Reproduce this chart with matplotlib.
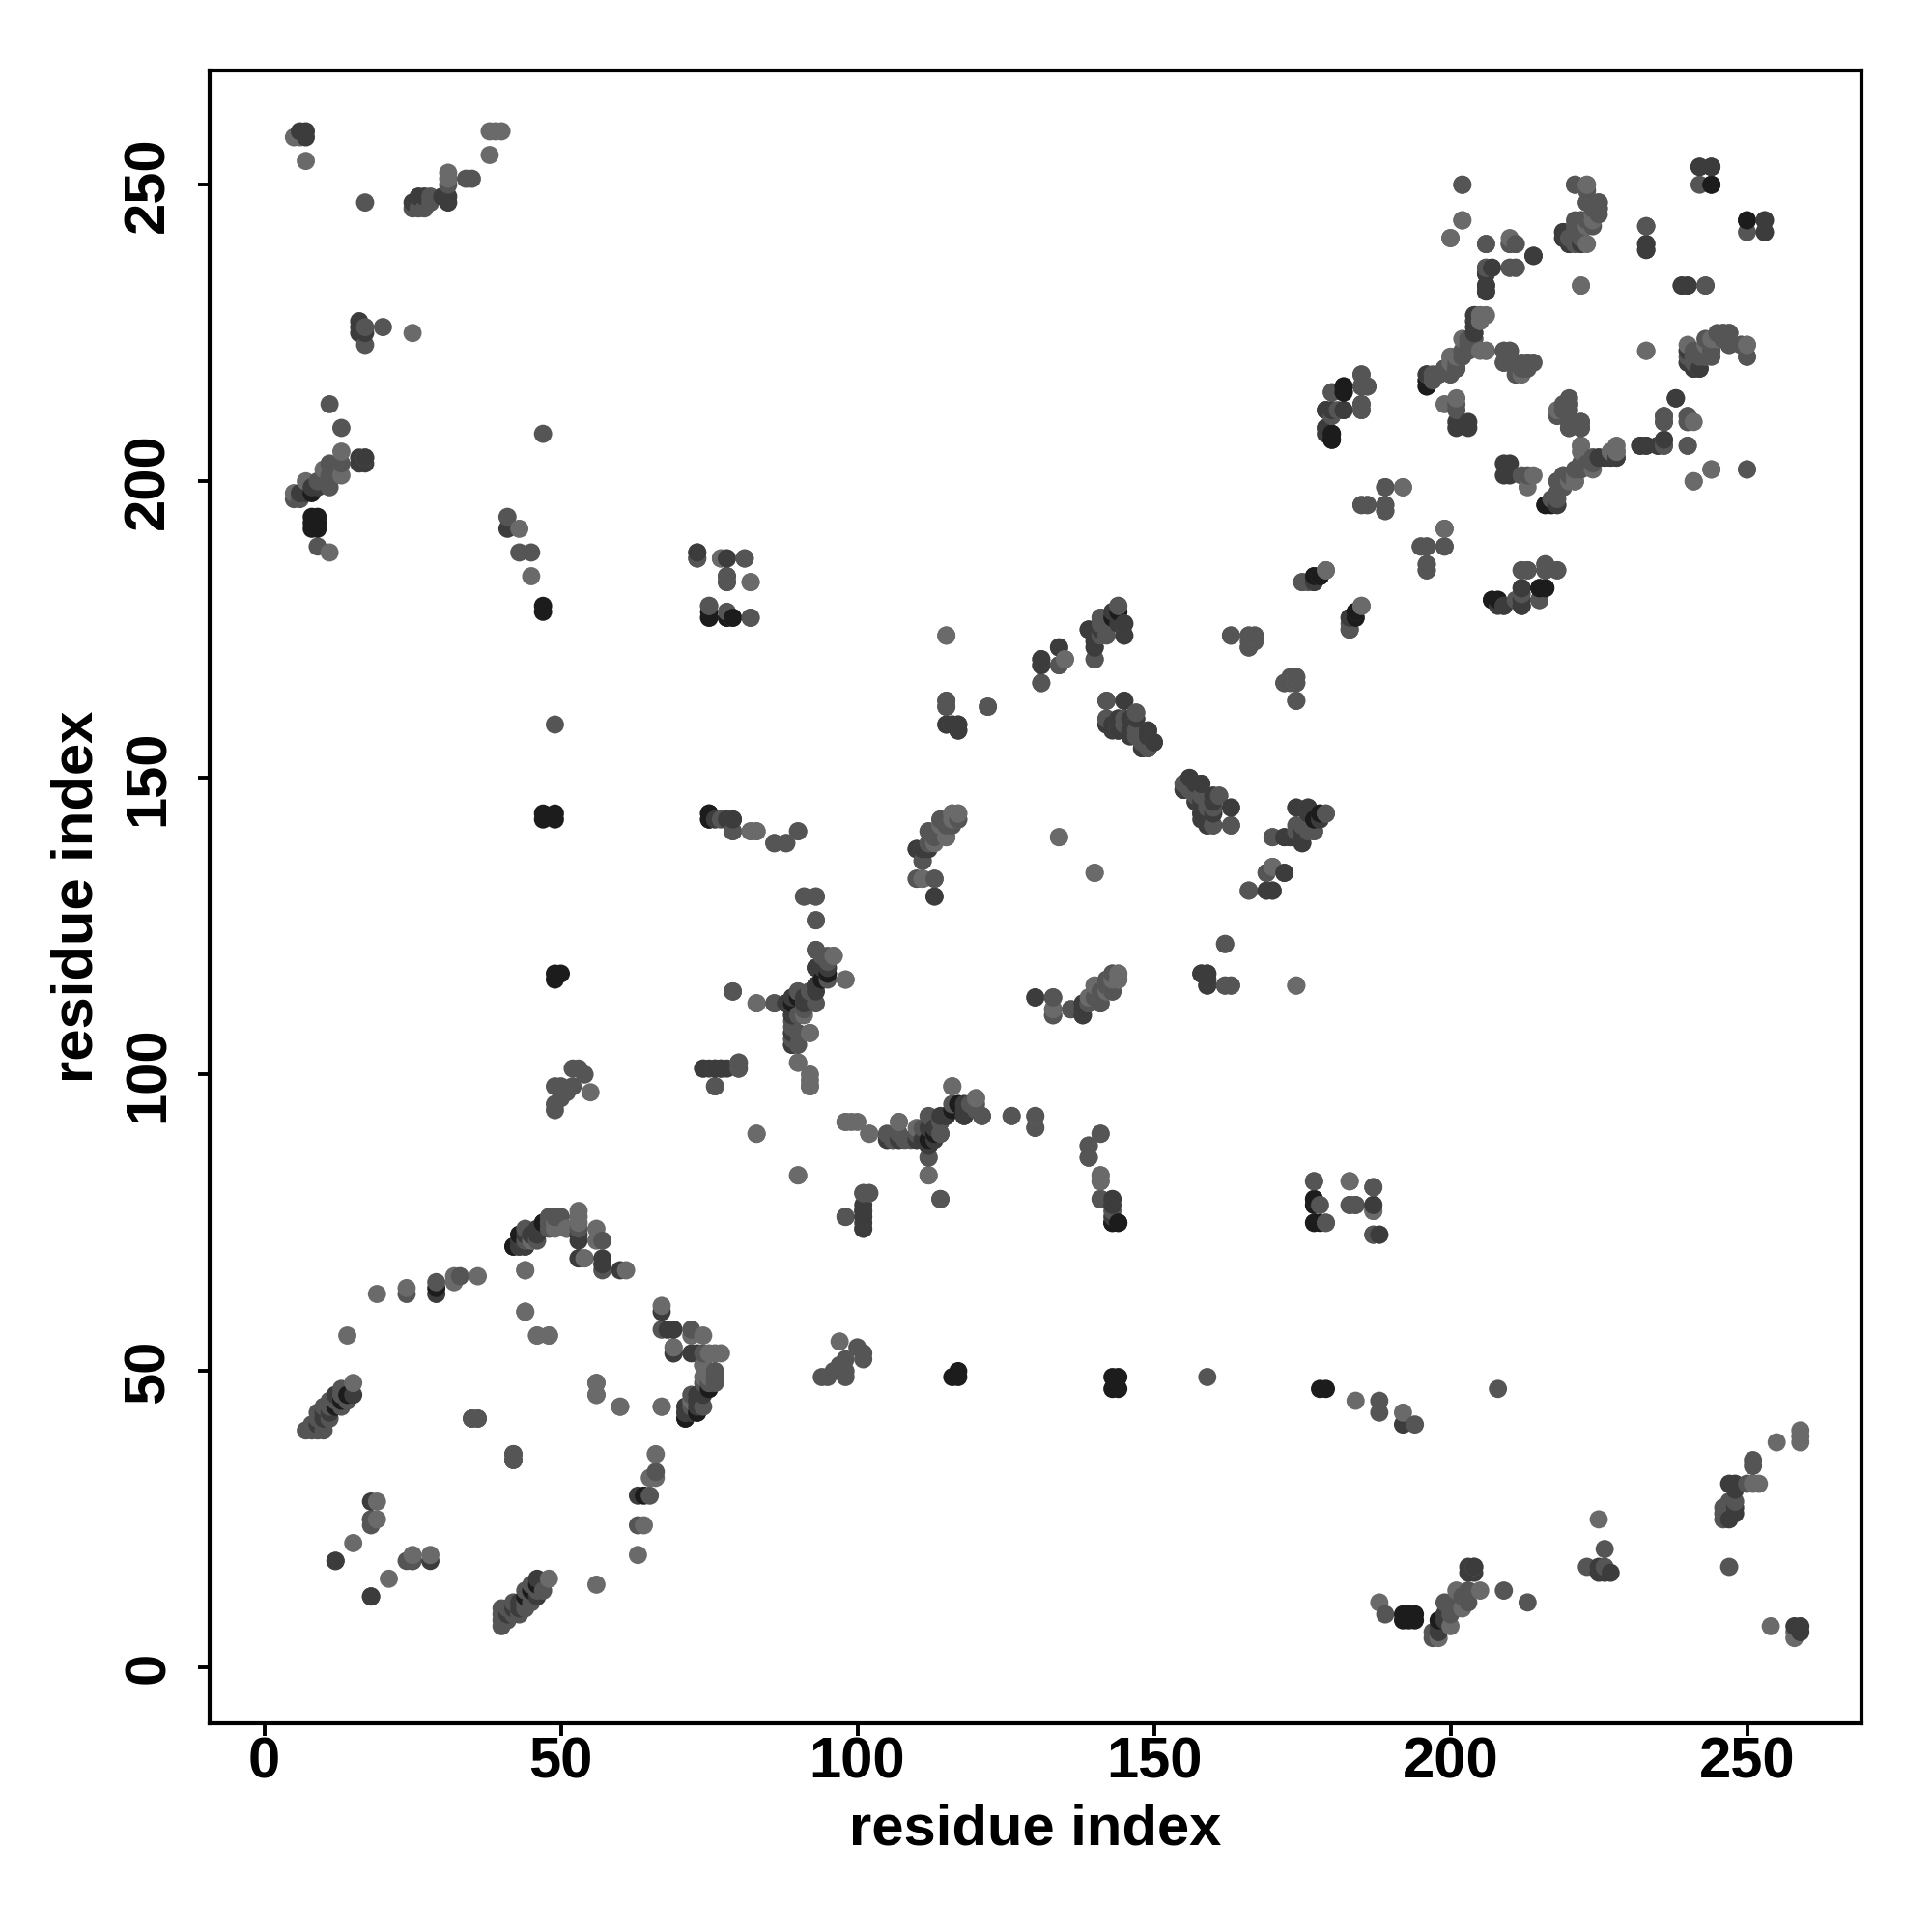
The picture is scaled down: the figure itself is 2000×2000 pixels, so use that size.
import numpy as np
import matplotlib
matplotlib.use("Agg")
import matplotlib.pyplot as plt

plt.rcParams['font.family'] = ['Liberation Sans', 'DejaVu Sans']
plt.rcParams['font.weight'] = 'bold'

# contacts (i, j), grouped by how dark the point is; mirrored when drawn
darkest = [
    (8,194),(9,194),(8,193),(9,193),(8,192),(9,192),(47,178),(47,179),(75,177),(75,178),
    (78,177),(79,177),(47,143),(47,144),(49,143),(49,144),(49,116),(49,117),(50,117),
    (75,143),(75,144),(182,216),(182,215),(180,207),(180,208),(196,216),(196,217),
    (244,250),(215,182),(216,182),(207,180),(208,180),(47,75),(43,73),(177,184),(178,184),
    (14,46),(94,116),(90,113),(178,144),(217,196),(143,177),(29,64),(95,117),(89,112),
    (143,75),(144,75),(42,71),(73,43),(75,47),(8,198),(13,45),(44,12),
]
dark = [
    (15,46),(12,18),(18,12),(18,28),(29,63),(43,72),(44,73),(47,74),(53,73),(53,72),(57,69),
    (57,68),(53,69),(60,67),(71,42),(72,43),(74,46),(6,259),(7,259),(7,258),
    (25,247),(26,248),(27,248),(30,248),(31,248),(31,247),(16,227),(16,226),(16,225),(17,225),
    (16,203),(17,203),(16,204),(17,204),(7,198),(8,199),(9,199),(6,198),(41,192),
    (73,188),(78,187),(79,143),(78,143),(76,143),(115,159),(117,159),(117,158),
    (140,172),(140,173),(139,175),(140,175),(143,178),(144,178),(145,163),(144,158),(146,158),
    (149,158),(149,157),(148,155),(150,156),(158,149),(158,143),(159,116),(158,117),(159,117),
    (174,145),(176,144),(175,141),(175,139),(172,134),(169,131),(170,131),(130,113),
    (88,112),(89,113),(89,110),(89,107),(89,105),(93,115),(93,118),(94,118),(95,118),
    (75,101),(77,101),(78,101),(101,77),(101,76),(110,89),(111,89),(112,89),(112,88),
    (112,91),(113,91),(114,93),(115,93),(117,95),(118,95),(118,93),(101,74),(242,253),
    (244,253),(250,244),(253,244),(233,240),(233,239),(206,235),(206,233),(206,232),
    (214,238),(239,233),(240,233),(240,220),(241,219),(242,219),(240,222),(238,214),
    (236,207),(232,206),(233,206),(235,206),(226,204),(225,204),(227,204),(218,196),(216,196),
    (204,228),(204,227),(204,226),(204,225),(201,209),(203,209),(201,210),(203,210),
    (180,212),(182,212),(179,212),(179,208),(209,179),(212,182),(212,180),(212,179),
    (176,145),(174,140),(172,140),(173,140),(110,138),(111,138),(138,110),(138,112),
    (142,159),(143,159),(144,160),(147,160),(155,148),(157,146),(160,146),(183,177),(184,178),
    (9,41),(10,42),(11,43),(12,44),(44,71),(45,73),(46,73),(73,45),(71,43),
    (10,43),(12,46),
]
mid = [
    (7,40),(8,40),(9,40),(10,40),(8,41),(10,41),(9,42),(11,42),(11,44),
    (12,45),(13,44),(13,46),(14,45),(29,65),(33,66),(43,71),(44,72),
    (48,75),(49,76),(50,76),(48,74),(53,74),(57,72),(57,67),(71,44),(72,46),
    (74,44),(75,48),(76,48),(76,49),(18,24),(18,25),(25,18),(42,35),(42,36),(35,42),(36,42),
    (24,63),(17,247),(25,246),(26,246),(27,246),(28,247),(28,248),(31,250),(34,251),(35,251),
    (17,226),(17,223),(20,226),(11,213),(13,209),(13,203),(11,203),(12,202),(12,201),(10,200),
    (10,201),(9,200),(11,201),(11,199),(6,197),(5,197),(9,189),(41,194),(45,188),(73,187),(81,187),
    (78,184),(78,183),(78,178),(82,177),(79,141),(86,139),(88,139),(90,141),(115,163),(115,162),
    (116,159),(122,162),(131,170),(131,169),(134,172),(134,169),(140,170),(141,177),(141,175),
    (141,174),(142,175),(144,179),(145,176),(141,176),(163,174),(166,172),(166,174),(167,173),
    (175,183),(183,175),(183,176),(184,177),(172,166),(173,166),(174,167),(174,163),(142,163),
    (142,160),(144,158),(145,160),(146,160),(147,161),(147,157),(148,156),(149,155),
    (155,149),(156,150),(156,149),(157,148),(158,147),(160,147),(161,147),(159,145),(158,144),
    (159,142),(160,144),(163,145),(163,142),(170,140),(174,142),(175,142),(177,141),(177,143),
    (169,134),(166,131),(162,115),(163,115),(133,113),(136,111),(138,111),(139,112),(140,113),
    (141,112),(141,114),(142,115),(142,116),(143,114),(143,117),(133,110),(159,115),
    (79,114),(86,112),(89,111),(89,109),(89,106),(90,114),(90,110),(91,113),(91,112),(91,111),
    (92,114),(93,121),(94,120),(95,119),(90,107),(90,105),(74,101),(80,102),(80,101),(76,101),
    (98,76),(101,80),(102,80),(105,89),(106,89),(107,89),(108,89),(114,90),(114,92),(112,93),
    (116,95),(120,95),(121,93),(126,93),(130,93),(139,88),(139,86),(114,79),(143,79),(143,77),
    (177,82),(177,79),(177,78),(179,75),(183,78),(184,78),(187,81),(187,78),(187,73),(188,73),
    (202,250),(221,250),(223,249),(225,247),(225,246),(224,246),(221,244),(222,244),(219,242),
    (219,241),(220,241),(221,241),(222,241),(220,240),(222,240),(221,243),(206,240),(206,236),
    (210,236),(211,236),(233,243),(250,242),(253,242),(243,233),(240,221),(241,221),(242,221),
    (243,221),(243,222),(243,224),(244,222),(244,223),(245,225),(246,225),(247,225),(247,223),
    (246,224),(250,221),(236,211),(236,210),(240,211),(240,210),(240,206),(236,206),(250,202),
    (228,204),(224,204),(223,203),(222,203),(221,202),(220,201),(219,201),(218,200),(219,199),
    (218,198),(217,197),(220,213),(219,212),(218,211),(220,212),(222,210),(222,209),(220,209),
    (214,220),(213,220),(213,219),(210,222),(210,221),(209,222),(209,220),(210,220),(204,224),
    (197,218),(198,218),(196,218),(199,219),(200,219),(201,219),(202,222),(203,222),(203,224),
    (201,213),(201,212),(180,215),(185,216),(186,216),(185,213),(185,212),(181,212),(179,209),
    (189,199),(185,196),(186,196),(189,196),(189,195),(199,189),(195,189),(196,189),(196,186),
    (196,185),(211,180),(215,180),(212,185),(213,185),(216,186),(216,185),(218,185),
    (49,159),(52,101),(53,101),(54,100),(49,94),(49,95),(50,96),(51,97),(52,98),(50,98),(49,98),
    (47,208),(130,91),(43,188),(9,43),(10,44),(11,45),(13,47),
]
light = [
    (15,48),(14,56),(19,63),(24,64),(32,65),(32,66),(36,66),(44,67),(44,60),(46,56),(48,56),(51,74),
    (53,77),(53,76),(53,75),(56,74),(56,72),(54,69),(61,67),(69,54),(69,53),(56,48),(56,46),(60,44),
    (67,44),(49,75),(45,72),(74,51),(74,49),(19,28),(19,25),(15,21),(5,258),(6,258),(7,254),
    (25,225),(38,255),(38,259),(39,259),(40,259),(31,252),(31,251),(11,188),(43,192),(45,184),
    (82,183),(77,187),(75,179),(13,205),(13,201),(10,202),(7,200),(5,198),(17,204),(82,141),(83,141),
    (115,174),(135,170),(131,166),(145,174),(167,174),
    (177,183),(179,185),(185,179),(174,166),(160,142),
    (179,144),(170,135),(134,140),(140,134),
    (162,122),(174,115),(133,111),(144,117),(144,116),(140,115),(83,112),(83,90),(90,83),
    (91,130),(93,130),(93,126),(96,120),(98,116),(92,107),(90,102),(92,99),(92,98),(76,98),(110,133),
    (111,133),(113,133),(113,130),(111,136),(112,139),(112,141),(113,139),(114,143),(114,142),
    (115,140),(116,143),(116,144),(117,144),(117,143),(98,92),(100,92),(102,90),(107,92),
    (110,91),(112,86),(112,83),(116,98),(120,96),(141,90),(141,83),(141,82),(141,79),
    (177,75),(183,82),(187,77),(202,244),(200,241),(223,250),(223,247),(224,245),(224,244),
    (222,233),(210,241),(211,240),(210,240),(207,236),(233,222),(240,223),(243,223),(250,223),
    (249,223),(241,200),(244,202),(228,206),(228,205),(222,206),(222,205),(221,200),(220,200),
    (220,210),(212,218),(206,222),(205,228),(205,227),(200,221),(201,221),(202,224),(199,213),
    (201,214),(185,218),(192,199),(199,192),
    (55,97),
]

greys = ["#6a6a6a", "#555555", "#3c3c3c", "#1c1c1c"]
tick_values = [0, 50, 100, 150, 200, 250]

fig = plt.figure(figsize=(10, 10), dpi=200)
ax = fig.add_axes([216.5/2000, (2000-1783.5)/2000, 1710.5/2000, 1710.8/2000])

# both halves of the map, stacked by residue so later columns sit on top
xs, ys, cols = [], [], []
for contacts, grey in zip([light, mid, dark, darkest], greys):
    for i, j in contacts:
        xs += [i, j]
        ys += [j, i]
        cols += [grey, grey]
xs = np.array(xs)
ys = np.array(ys)
order = np.lexsort((ys, xs))
ax.scatter(xs[order], ys[order], s=46, c=[cols[k] for k in order], linewidths=0, zorder=3)

ax.set_xlim(-9.3, 269.3)
ax.set_ylim(-9.3, 269.3)
ax.set_xticks(tick_values)
ax.set_yticks(tick_values)
ax.tick_params(axis='x', length=4.5, width=1.4, labelsize=21.5, pad=0.5)
ax.tick_params(axis='y', length=4.5, width=1.4, labelsize=21.5, pad=8)
for lab in ax.get_yticklabels():
    lab.set_rotation(90)
    lab.set_va('center')
for sp in ax.spines.values():
    sp.set_linewidth(1.5)
ax.set_xlabel("residue index", fontsize=21.5, fontweight='bold', labelpad=5)
ax.set_ylabel("residue index", fontsize=21.5, fontweight='bold', labelpad=7)

fig.savefig('out.png', dpi=200)
